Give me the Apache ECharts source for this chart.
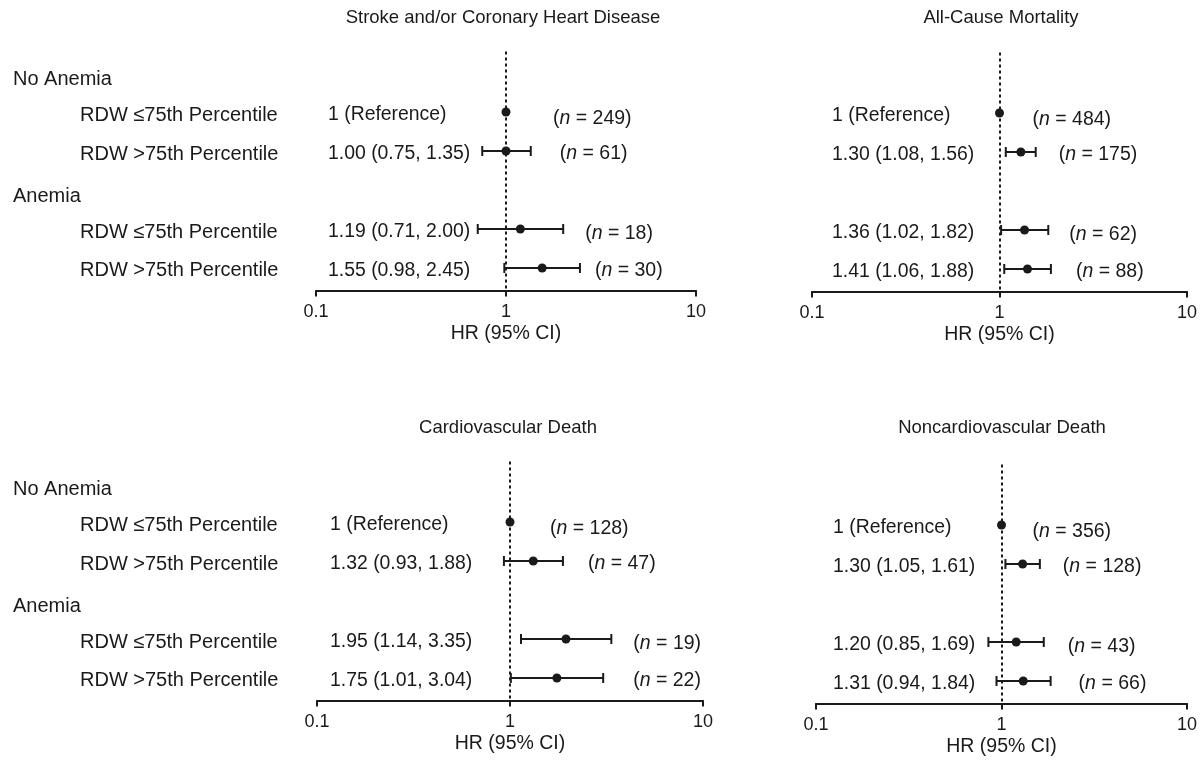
<!DOCTYPE html>
<html>
<head>
<meta charset="utf-8">
<script src="https://cdn.jsdelivr.net/npm/echarts@6/dist/echarts.min.js"></script>
<style>html,body{margin:0;padding:0;background:#fff}#c{width:1204px;height:762px}</style>
</head>
<body>
<div id="c"></div>
<script>
// ---------- data ----------
const panelTitles = ['Stroke and/or Coronary Heart Disease', 'All-Cause Mortality', 'Cardiovascular Death', 'Noncardiovascular Death'];
const rowLabels = ['No Anemia', 'RDW \u226475th Percentile', 'RDW >75th Percentile', 'Anemia', 'RDW \u226475th Percentile', 'RDW >75th Percentile'];
const rowIsHeader = [true, false, false, true, false, false];
const estimateSlots = [1, 2, 4, 5];
const xTicks = [0.1, 1, 10];
const xTickLabels = ['0.1', '1', '10'];
const axisName = 'HR (95% CI)';
const referenceText = '1 (Reference)';

const hrStroke = [1, 1.00, 1.19, 1.55];
const loStroke = [null, 0.75, 0.71, 0.98];
const hiStroke = [null, 1.35, 2.00, 2.45];
const nStroke = [249, 61, 18, 30];

const hrAll = [1, 1.30, 1.36, 1.41];
const loAll = [null, 1.08, 1.02, 1.06];
const hiAll = [null, 1.56, 1.82, 1.88];
const nAll = [484, 175, 62, 88];

const hrCV = [1, 1.32, 1.95, 1.75];
const loCV = [null, 0.93, 1.14, 1.01];
const hiCV = [null, 1.88, 3.35, 3.04];
const nCV = [128, 47, 19, 22];

const hrNonCV = [1, 1.30, 1.20, 1.31];
const loNonCV = [null, 1.05, 0.85, 0.94];
const hiNonCV = [null, 1.61, 1.69, 1.84];
const nNonCV = [356, 128, 43, 66];

const panelData = [
  {hr: hrStroke, lo: loStroke, hi: hiStroke, n: nStroke},
  {hr: hrAll, lo: loAll, hi: hiAll, n: nAll},
  {hr: hrCV, lo: loCV, hi: hiCV, n: nCV},
  {hr: hrNonCV, lo: loNonCV, hi: hiNonCV, n: nNonCV}
];

// ---------- layout / style ----------
const FONT = "'Liberation Sans', Arial, Helvetica, sans-serif";
const INK = '#1a1a1a';
const gridLayout = [
  {left: 316, top: 34, width: 380},
  {left: 812, top: 35, width: 375},
  {left: 317, top: 444, width: 386},
  {left: 816, top: 447, width: 371}
];
const gridHeight = 256.6;
const yMin = -1, yMax = 5.58, dashTop = -0.55;
const showRowLabels = [true, false, true, false];
const hrTextMargin = [12, 20, 13, 17];
const nLabelGap = [[47, 29, 22, 15], [33, 23, 21, 25], [40, 25, 22, 30], [31, 23, 24, 28]];
const nLabelDy = [7, 3, 5, 3];
const titlePos = [[503, 8], [1001, 8], [508, 418], [1002, 418]];

function fmt(v) { return v.toFixed(2); }
// a thin spacer line above the text nudges it a few pixels below the tick centre
const SHIFT = '{sp| }\n';
const SHIFT_HEAD = '{sp2| }\n';
const spacer = {fontSize: 1, lineHeight: 6};
const spacerHead = {fontSize: 1, lineHeight: 12};

const option = {
  animation: false,
  backgroundColor: '#fff',
  textStyle: {fontFamily: FONT, color: INK},
  title: panelTitles.map((t, i) => ({
    text: t, left: titlePos[i][0], top: titlePos[i][1], textAlign: 'center', padding: 0,
    textStyle: {fontFamily: FONT, fontSize: 18.5, fontWeight: 'normal', color: INK}
  })),
  grid: gridLayout.map(g => ({left: g.left, top: g.top, width: g.width, height: gridHeight, containLabel: false, outerBoundsMode: 'none'})),
  xAxis: gridLayout.map((g, i) => ({
    type: 'log', logBase: 10, min: 0.1, max: 10, gridIndex: i, position: 'bottom',
    name: axisName, nameLocation: 'middle', nameGap: 33,
    nameTextStyle: {fontFamily: FONT, fontSize: 19.5, color: INK},
    axisLine: {show: true, onZero: false, lineStyle: {color: INK, width: 2}},
    axisTick: {show: true, length: 6, lineStyle: {color: INK, width: 2}},
    splitLine: {show: false},
    minorTick: {show: false},
    axisLabel: {
      fontFamily: FONT, fontSize: 18, color: INK, margin: 12,
      formatter: v => {
        const k = xTicks.findIndex(t => Math.abs(Math.log10(t) - Math.log10(v)) < 1e-6);
        return k >= 0 ? xTickLabels[k] : '';
      }
    }
  })),
  yAxis: [],
  series: []
};

gridLayout.forEach((g, i) => {
  const d = panelData[i];
  // row label axis
  option.yAxis.push({
    type: 'value', gridIndex: i, position: 'left', inverse: true, min: yMin, max: yMax, interval: 1,
    axisLine: {show: false, onZero: false}, axisTick: {show: false}, splitLine: {show: false},
    axisLabel: {
      show: showRowLabels[i], align: 'left', margin: g.left - 13,
      formatter: v => {
        if (!Number.isInteger(v) || v < 0 || v >= rowLabels.length) return '';
        return rowIsHeader[v] ? SHIFT_HEAD + '{h|' + rowLabels[v] + '}'
                              : SHIFT + '{s|' + rowLabels[v] + '}';
      },
      rich: {
        sp: spacer,
        sp2: spacerHead,
        h: {fontFamily: FONT, fontSize: 20, lineHeight: 22, color: INK},
        s: {fontFamily: FONT, fontSize: 20, lineHeight: 22, color: INK, padding: [0, 0, 0, 67]}
      }
    }
  });
  // HR (CI) text axis
  option.yAxis.push({
    type: 'value', gridIndex: i, position: 'left', offset: 0, inverse: true, min: yMin, max: yMax, interval: 1,
    axisLine: {show: false, onZero: false}, axisTick: {show: false}, splitLine: {show: false},
    axisLabel: {
      inside: true, align: 'left', margin: hrTextMargin[i],
      formatter: v => {
        const r = estimateSlots.indexOf(v);
        if (r < 0) return '';
        const txt = d.lo[r] == null ? referenceText
          : fmt(d.hr[r]) + ' (' + fmt(d.lo[r]) + ', ' + fmt(d.hi[r]) + ')';
        return SHIFT + '{t|' + txt + '}';
      },
      rich: {
        sp: spacer,
        t: {fontFamily: FONT, fontSize: 19.4, lineHeight: 22, color: INK}
      }
    }
  });

  const yIdx = i * 2;
  // confidence interval whiskers
  option.series.push({
    type: 'custom', xAxisIndex: i, yAxisIndex: yIdx, silent: true,
    data: estimateSlots.map((s, r) => d.lo[r] == null ? null : [d.lo[r], d.hi[r], s]).filter(x => x),
    encode: {x: [0, 1], y: 2},
    renderItem: (params, api) => {
      const y = api.value(2);
      const a = api.coord([api.value(0), y]);
      const b = api.coord([api.value(1), y]);
      const st = {stroke: INK, lineWidth: 2};
      const cap = 5;
      return {type: 'group', children: [
        {type: 'line', shape: {x1: a[0], y1: a[1], x2: b[0], y2: b[1]}, style: st},
        {type: 'line', shape: {x1: a[0], y1: a[1] - cap, x2: a[0], y2: a[1] + cap}, style: st},
        {type: 'line', shape: {x1: b[0], y1: b[1] - cap, x2: b[0], y2: b[1] + cap}, style: st}
      ]};
    }
  });
  // point estimates + reference line
  option.series.push({
    type: 'scatter', xAxisIndex: i, yAxisIndex: yIdx, silent: true,
    symbol: 'circle', symbolSize: 9, itemStyle: {color: INK, opacity: 1},
    data: estimateSlots.map((s, r) => [d.hr[r], s]),
    markLine: {
      silent: true, symbol: ['none', 'none'], label: {show: false},
      lineStyle: {color: INK, width: 2, type: [3, 3], opacity: 1},
      data: [[{coord: [1, dashTop]}, {coord: [1, yMax]}]]
    },
    z: 3
  });
  // n labels
  option.series.push({
    type: 'scatter', xAxisIndex: i, yAxisIndex: yIdx, silent: true,
    symbolSize: 0, itemStyle: {color: INK, opacity: 1},
    data: estimateSlots.map((s, r) => ({
      value: [d.hi[r] == null ? d.hr[r] : d.hi[r], s, d.n[r]],
      label: {offset: [nLabelGap[i][r], nLabelDy[r]]}
    })),
    label: {
      show: true, position: 'right', distance: 0,
      fontFamily: FONT, fontSize: 19.5, color: INK, opacity: 1,
      formatter: p => '({i|n} = ' + p.value[2] + ')',
      rich: {i: {fontFamily: FONT, fontSize: 19.5, fontStyle: 'italic', color: INK}}
    }
  });
});

const chart = echarts.init(document.getElementById('c'), null, {renderer: 'canvas'});
chart.setOption(option);
</script>
</body>
</html>
